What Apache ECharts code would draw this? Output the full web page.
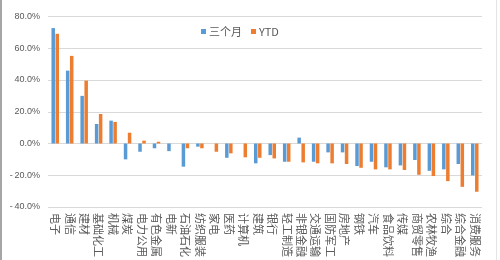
<!DOCTYPE html>
<html lang="zh">
<head>
    <meta charset="UTF-8">
    <title>行业涨跌幅</title>
    <script src="https://cdn.jsdelivr.net/npm/echarts@6/dist/echarts.min.js"></script>
    <style>
        html, body { margin: 0; padding: 0; background: #fff; }
        #main { width: 500px; height: 260px; }
    </style>
</head>
<body>
    <div id="main"></div>
    <script>
        // 行业分类
        var categories = ['电子', '通信', '建材', '基础化工', '机械', '煤炭', '电力公用', '有色金属', '电新',
            '石油石化', '纺织服装', '家电', '医药', '计算机', '建筑', '银行', '轻工制造', '非银金融', '交通运输',
            '国防军工', '房地产', '钢铁', '汽车', '食品饮料', '传媒', '商贸零售', '农林牧渔', '综合', '综合金融', '消费服务'];
        // 近三个月涨跌幅（%）
        var threeMonth = [72.7, 45.9, 30.0, 12.3, 14.4, -10.0, -5.2, -3.0, -4.8,
            -14.6, -2.0, 0, -9.0, 0, -12.5, -7.3, -11.5, 3.7, -11.5,
            -5.6, -5.6, -14.2, -11.5, -15.0, -13.8, -10.4, -17.2, -16.3, -12.9, -20.1];
        // 年初至今涨跌幅（%）
        var ytd = [69.1, 55.2, 39.6, 18.6, 13.6, 6.8, 1.8, 1.1, 0,
            -3.0, -3.0, -5.2, -6.2, -8.7, -9.0, -9.4, -11.5, -11.9, -12.5,
            -12.5, -12.9, -15.3, -16.3, -16.3, -16.7, -19.7, -20.5, -23.7, -27.3, -30.4];
        var yTicks = { min: -40, max: 80, interval: 20 };

        var myChart = echarts.init(document.getElementById('main'));
        var labelColor = '#595959';

        myChart.setOption({
            animation: false,
            textStyle: { fontFamily: 'Noto Sans CJK SC' },
            graphic: [
                { type: 'rect', left: 0, top: 0, shape: { width: 2, height: 260 }, style: { fill: '#a6a6a6' } },
                { type: 'rect', left: 496, top: 0, shape: { width: 1, height: 260 }, style: { fill: '#e4e4e4' } }
            ],
            legend: {
                left: 196,
                top: 21,
                itemWidth: 5,
                itemHeight: 5,
                itemGap: 9,
                icon: 'rect',
                textStyle: { color: labelColor, fontSize: 11, padding: [0, 0, 0, -2] },
                data: ['三个月', 'YTD']
            },
            grid: { left: 48, right: 18, top: 16.5, bottom: 53 },
            xAxis: {
                type: 'category',
                data: categories,
                axisLine: { show: false, onZero: false },
                axisTick: { show: false },
                axisLabel: {
                    rotate: -90,
                    interval: 0,
                    margin: 6,
                    fontSize: 11,
                    color: labelColor
                }
            },
            yAxis: {
                type: 'value',
                min: yTicks.min,
                max: yTicks.max,
                interval: yTicks.interval,
                axisLine: { show: false },
                axisTick: { show: false },
                splitLine: { lineStyle: { color: '#d9d9d9', width: 1 } },
                axisLabel: {
                    margin: 8,
                    fontSize: 9,
                    color: labelColor,
                    fontFamily: 'Liberation Sans',
                    formatter: function (v) {
                        return (v < 0 ? '-\u2009' : '') + Math.abs(v).toFixed(1) + '%';
                    }
                }
            },
            series: [
                {
                    name: '三个月',
                    type: 'bar',
                    data: threeMonth,
                    barWidth: 3.5,
                    barGap: '15%',
                    itemStyle: { color: '#5b9bd5' }
                },
                {
                    name: 'YTD',
                    type: 'bar',
                    data: ytd,
                    barWidth: 3.5,
                    itemStyle: { color: '#ed7d31' }
                }
            ]
        });
    </script>
</body>
</html>
